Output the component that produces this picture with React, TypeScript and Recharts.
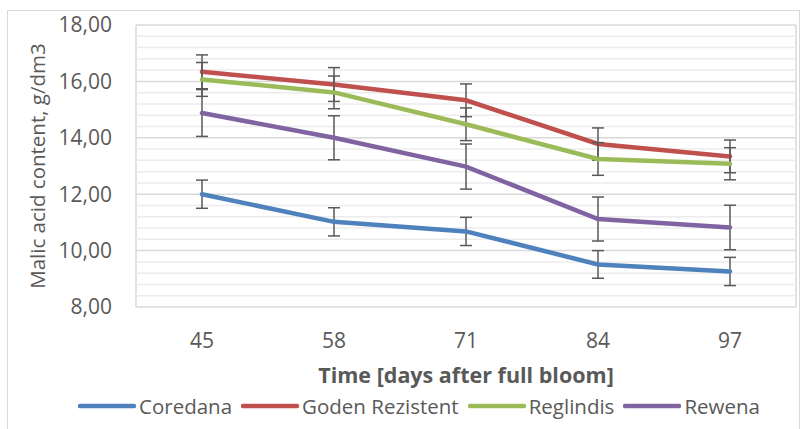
import { CartesianGrid, ErrorBar, Legend, Line, LineChart, ReferenceLine, XAxis, YAxis } from "recharts"

const days = [45, 58, 71, 84, 97];

const coredana = [12.0, 11.02, 10.68, 9.51, 9.26];
const coredanaErr = [0.5, 0.5, 0.5, 0.49, 0.5];

const goden = [16.34, 15.89, 15.33, 13.78, 13.34];
const godenErr = [0.6, 0.6, 0.58, 0.57, 0.58];

const reglindis = [16.07, 15.61, 14.48, 13.25, 13.08];
const reglindisErr = [0.6, 0.58, 0.58, 0.58, 0.57];

const rewena = [14.88, 14.0, 12.98, 11.12, 10.82];
const rewenaErr = [0.83, 0.78, 0.8, 0.78, 0.79];

const yTicks = [8, 10, 12, 14, 16, 18];
const yMinor = [8.4, 8.8, 9.2, 9.6, 10.4, 10.8, 11.2, 11.6, 12.4, 12.8, 13.2, 13.6, 14.4, 14.8, 15.2, 15.6, 16.4, 16.8, 17.2, 17.6];

const SERIES = [
    { key: "coredana", name: "Coredana", color: "#4F81BD" },
    { key: "goden", name: "Goden Rezistent", color: "#C0504D" },
    { key: "reglindis", name: "Reglindis", color: "#9BBB59" },
    { key: "rewena", name: "Rewena", color: "#8064A2" },
];

const data = days.map((d, i) => ({
    day: d,
    coredana: coredana[i], coredanaErr: coredanaErr[i],
    goden: goden[i], godenErr: godenErr[i],
    reglindis: reglindis[i], reglindisErr: reglindisErr[i],
    rewena: rewena[i], rewenaErr: rewenaErr[i],
}));

// category boundaries (Excel draws gridlines between categories)
const step = days[1] - days[0];
const bounds = [...days.map(d => d - step / 2), days[days.length - 1] + step / 2];

const FONT = "'Open Sans', sans-serif";
const TEXT = "#595959";

const YLabel = ({ viewBox }: any) => {
    const cx = viewBox.x + 37;
    const cy = viewBox.y + viewBox.height / 2;
    return (
        <text x={cx} y={cy} transform={`rotate(-90 ${cx} ${cy})`} textAnchor="middle" dominantBaseline="central"
            fill={TEXT} fontSize={20.5} fontFamily={FONT}>
            Malic acid content, g/dm3
        </text>
    );
};

const LegendContent = ({ payload }: any) => (
    <div style={{ display: "flex", justifyContent: "center", alignItems: "center", paddingLeft: 40, fontFamily: FONT, fontSize: 20.5, color: TEXT, height: 26 }}>
        {(payload || []).map((p: any) => (
            <div key={p.value} style={{ display: "flex", alignItems: "center", marginRight: 9 }}>
                <svg width={58} height={8} style={{ marginRight: 3 }}>
                    <line x1={2} y1={4} x2={56} y2={4} stroke={p.color} strokeWidth={4.5} strokeLinecap="round" />
                </svg>
                <span>{p.value}</span>
            </div>
        ))}
    </div>
);

const fmt = (v: number) => v.toFixed(2).replace(".", ",");

export default function App() {
    return (
        <div style={{ position: "absolute", left: 0, top: 0, width: 807, height: 429, background: "#fff", overflow: "hidden" }}>
            <div style={{ position: "absolute", left: 7, top: 10, width: 793, height: 440, border: "1px solid #d9d9d9", boxSizing: "border-box" }} />
            <LineChart width={807} height={429} data={data} margin={{ top: 25, right: 11, left: 0, bottom: 10 }}
                style={{ position: "absolute", left: 0, top: 0 }}>
                <CartesianGrid stroke="#d9d9d9" strokeWidth={1.5} />
                {yMinor.map(v => (
                    <ReferenceLine key={v} y={v} stroke="#ececec" strokeWidth={1.5} />
                ))}
                <XAxis xAxisId={0} type="number" dataKey="day" domain={[bounds[0], bounds[bounds.length - 1]]}
                    ticks={bounds} tick={false} height={0} stroke="#d9d9d9" strokeWidth={1.5} tickSize={7} />
                <XAxis xAxisId="lab" type="number" dataKey="day" domain={[bounds[0], bounds[bounds.length - 1]]}
                    ticks={days} height={86} axisLine={false} tickLine={false} tickSize={0} tickMargin={26}
                    tick={{ fill: TEXT, fontSize: 21, fontFamily: FONT }}
                    label={{ value: "Time [days after full bloom]", position: "insideTop", offset: 61, fill: TEXT, fontSize: 21.5, fontWeight: "bold", fontFamily: FONT }} />
                <YAxis domain={[8, 18]} ticks={yTicks} width={136} axisLine={false} tickLine={false} tickSize={0} tickMargin={24}
                    tickFormatter={fmt} tick={{ fill: TEXT, fontSize: 21, fontFamily: FONT }} label={<YLabel />} />
                {SERIES.map(s => (
                    <Line key={s.key} dataKey={s.key} name={s.name} stroke={s.color} strokeWidth={4.5} dot={false}
                        type="linear" isAnimationActive={false} strokeLinecap="round">
                        <ErrorBar dataKey={`${s.key}Err`} direction="y" width={6} stroke="#595959" strokeWidth={1.5} />
                    </Line>
                ))}
                <Legend verticalAlign="bottom" content={<LegendContent />} wrapperStyle={{ left: 0, width: 807 }} />
            </LineChart>
        </div>
    );
}
